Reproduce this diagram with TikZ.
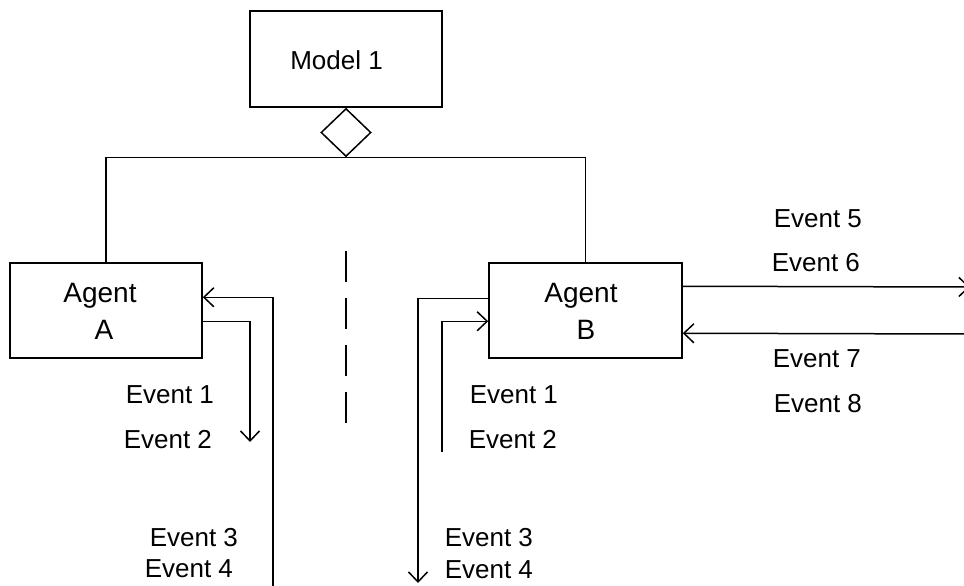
\documentclass[tikz,border=0pt]{standalone}
\usepackage{fontspec}
\setmainfont{Liberation Sans}
\usetikzlibrary{arrows.meta,shapes.geometric,calc}
\begin{document}
\begin{tikzpicture}[x=1pt,y=-1pt,
  line width=1.5pt,
  box/.style={draw, rectangle, inner sep=0pt, minimum height=95pt},
  lbl/.style={inner sep=0pt, font=\fontsize{26}{31}\selectfont},
  agentlbl/.style={inner sep=0pt, anchor=base, font=\fontsize{28}{33}\selectfont},
  arr/.style={-{Straight Barb[length=10pt,width=19pt]}},
  sep/.style={dash pattern=on 31pt off 16pt, line cap=butt}]
  \useasboundingbox (0,0) rectangle (964,586);

  % model and aggregation diamond
  \node[box, minimum width=192pt, minimum height=96pt] (model) at (346,59) {};
  \node[lbl, anchor=base] (modeltxt) at (336.5,70) {Model 1};
  \node[draw, diamond, aspect=1, inner sep=0pt, minimum width=50pt, minimum height=48pt,
        anchor=north] (agg) at (model.south) {};

  % agents
  \node[box, minimum width=192pt] (A) at (106,310.5) {};
  \node[box, minimum width=193pt] (B) at (585.5,310.5) {};
  \node[agentlbl] (Aname) at (100,302) {Agent};
  \node[agentlbl] (Aid) at (104,339) {A};
  \node[agentlbl] (Bname) at (581,302) {Agent};
  \node[agentlbl] (Bid) at (586,339) {B};

  % composition tree
  \draw (A.north) |- (agg.south) -| (B.north);

  % separator between the agents
  \coordinate (sepTop) at (346,251);
  \coordinate (sepBot) at (346,425);
  \draw[sep] (sepTop) -- (sepBot);

  % agent A events
  \coordinate (aInStart) at (273,592);
  \coordinate (aOutEnd) at (250,442);
  \draw[arr] (aInStart) |- ($(A.north east)+(0,35)$);
  \draw[arr] ($(A.north east)+(0,59)$) -| (aOutEnd);

  % agent B events
  \coordinate (bOutEnd) at (418,583);
  \coordinate (bInStart) at (442,452);
  \draw[arr] ($(B.north west)+(0,36)$) -| (bOutEnd);
  \draw[arr] (bInStart) |- ($(B.north west)+(0,59)$);

  % external events of B
  \coordinate (extOut) at (970,287);
  \coordinate (extIn) at (972,334);
  \draw[arr] ($(B.north east)+(0,24)$) -- (extOut);
  \draw[arr] (extIn) -- ($(B.north east)+(0,71)$);

  % event labels
  \node[lbl, anchor=base west] (ea1) at (125,403) {Event 1};
  \node[lbl, anchor=base west] (ea2) at (123,448) {Event 2};
  \node[lbl, anchor=base west] (ea3) at (149,546) {Event 3};
  \node[lbl, anchor=base west] (ea4) at (144,577) {Event 4};
  \node[lbl, anchor=base west] (eb1) at (469,403) {Event 1};
  \node[lbl, anchor=base west] (eb2) at (468,448) {Event 2};
  \node[lbl, anchor=base west] (eb3) at (444,546) {Event 3};
  \node[lbl, anchor=base west] (eb4) at (444,578) {Event 4};
  \node[lbl, anchor=base west] (e5) at (773,227) {Event 5};
  \node[lbl, anchor=base west] (e6) at (771,271) {Event 6};
  \node[lbl, anchor=base west] (e7) at (772,367) {Event 7};
  \node[lbl, anchor=base west] (e8) at (773,412) {Event 8};
\end{tikzpicture}
\end{document}
